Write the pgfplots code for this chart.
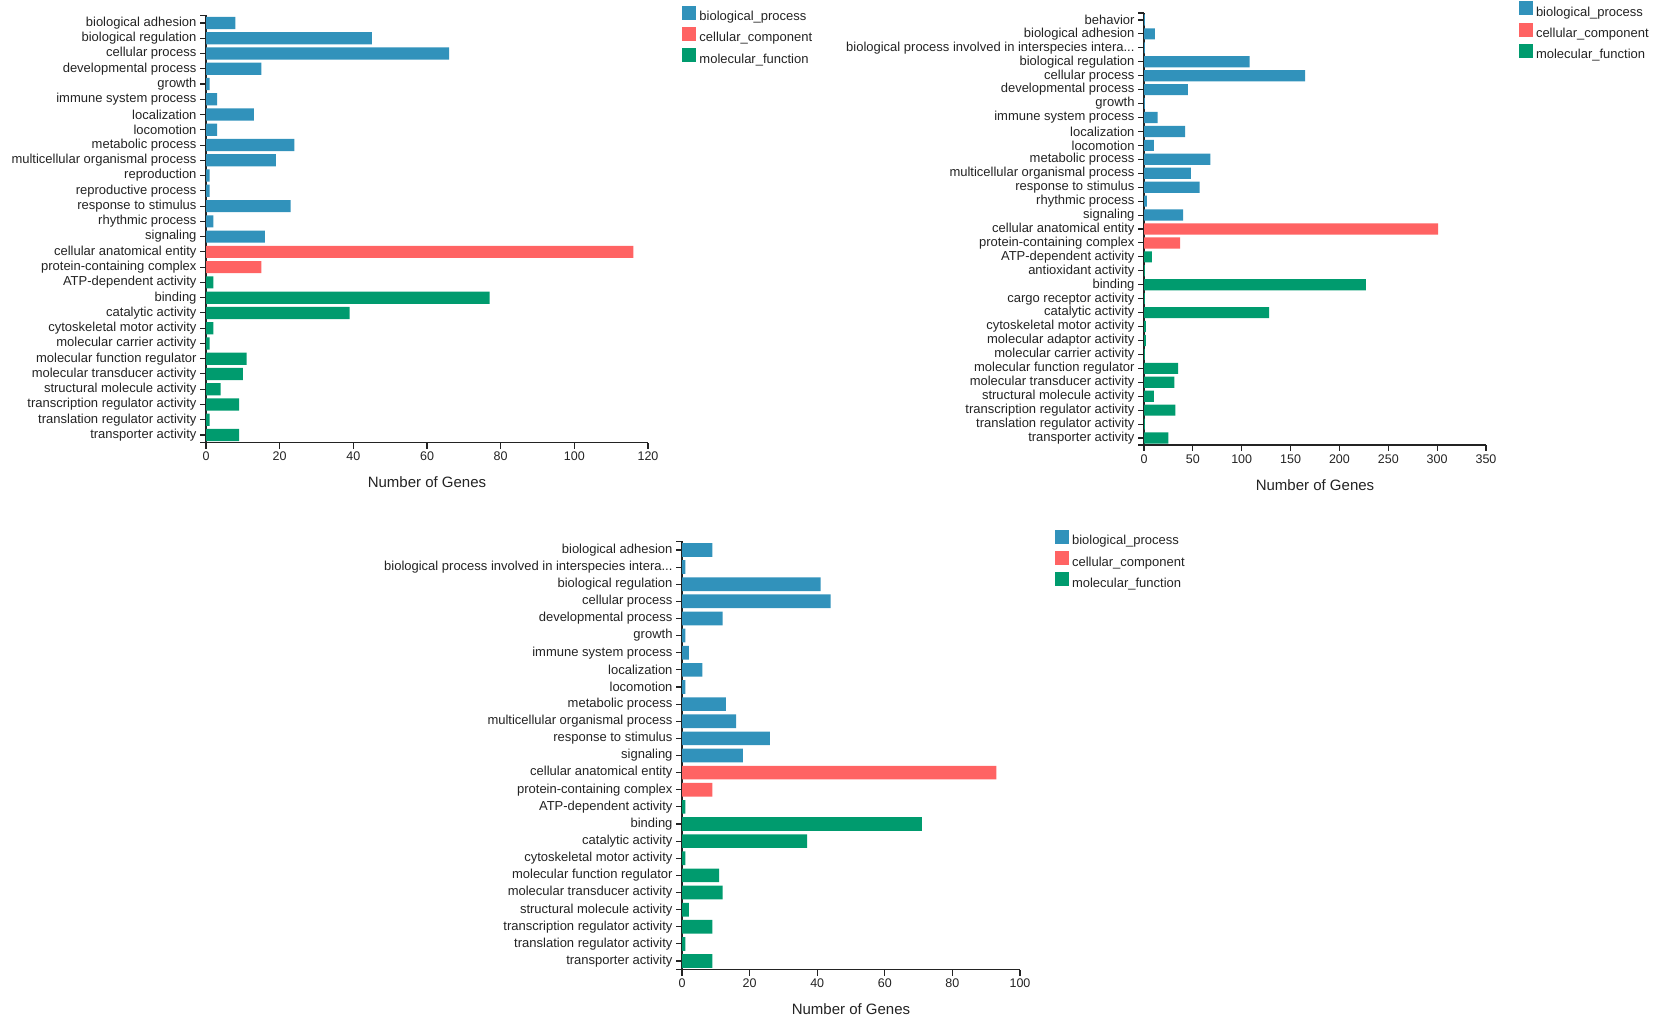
\documentclass[border=0pt]{standalone}
\usepackage{fontspec}
\setmainfont{Liberation Sans}
\usepackage{pgfplots}
\pgfplotsset{compat=1.18}
\newcommand{\tdots}{...}
\definecolor{bp}{RGB}{49,146,187}
\definecolor{cc}{RGB}{255,99,99}
\definecolor{mf}{RGB}{0,155,110}
\definecolor{ax}{RGB}{35,35,35}
\pgfplotsset{
  gobar/.style={
    scale only axis,
    anchor=south west,
    xbar, bar shift=0pt, bar width=0.8,
    axis x line*=bottom, axis y line*=left,
    axis line style={ax, line width=1.1bp},
    tick align=outside,
    major tick length=6bp,
    every tick/.style={ax, line width=1.1bp},
    xmin=0, ymin=-0.5,
    /pgf/number format/assume math mode=true,
    xticklabel style={font=\fontsize{12.5bp}{14bp}\selectfont, text=ax},
    yticklabel style={font=\fontsize{13bp}{15bp}\selectfont, text=ax},
    xlabel={Number of Genes},
    xlabel style={at={(axis description cs:0.5,0)}, anchor=center, yshift=-40bp,
      font=\fontsize{15bp}{17bp}\selectfont, text=ax},
    legend image code/.code={\fill[##1] (0bp,-3bp) rectangle (14bp,11bp);},
    legend style={draw=none, fill=none, inner sep=0pt, outer sep=0pt, anchor=north west,
      row sep=4.8bp, font=\fontsize{13bp}{15bp}\selectfont,
      nodes={inner sep=0pt, text=ax},
      /tikz/every odd column/.append style={column sep=3bp}},
    legend cell align=left,
  }
}
\begin{document}
\begin{tikzpicture}
\useasboundingbox (0,0) rectangle (1654bp,1021bp);
% ---------- panel 1 ----------
\begin{axis}[gobar,
  at={(206bp,578.4bp)}, width=442bp, height=427.2bp,
  xmax=120, xtick={0,20,40,60,80,100,120}, ymax=27.5,
  ytick={0,1,2,3,4,5,6,7,8,9,10,11,12,13,14,15,16,17,18,19,20,21,22,23,24,25,26,27},
  extra y ticks={-0.5,27.5}, extra y tick labels={},
  yticklabels={transporter activity, translation regulator activity, transcription regulator activity,
    structural molecule activity, molecular transducer activity, molecular function regulator,
    molecular carrier activity, cytoskeletal motor activity, catalytic activity, binding,
    ATP-dependent activity, protein-containing complex, cellular anatomical entity,
    signaling, rhythmic process, response to stimulus, reproductive process, reproduction,
    multicellular organismal process, metabolic process, locomotion, localization,
    immune system process, growth, developmental process, cellular process,
    biological regulation, biological adhesion},
  legend style={at={(axis description cs:1.078,1.0225)}},
]
\addplot[fill=bp, draw=none] coordinates {
 (8,27) (45,26) (66,25) (15,24) (1,23) (3,22) (13,21) (3,20) (24,19) (19,18)
 (1,17) (1,16) (23,15) (2,14) (16,13)};
\addlegendentry{biological\_process}
\addplot[fill=cc, draw=none] coordinates {(116,12) (15,11)};
\addlegendentry{cellular\_component}
\addplot[fill=mf, draw=none] coordinates {
 (2,10) (77,9) (39,8) (2,7) (1,6) (11,5) (10,4) (4,3) (9,2) (1,1) (9,0)};
\addlegendentry{molecular\_function}
\end{axis}
% ---------- panel 2 ----------
\begin{axis}[gobar,
  at={(1144bp,576bp)}, width=342bp, height=432bp,
  xmax=350, xtick={0,50,100,150,200,250,300,350}, ymax=30.5,
  ytick={0,1,2,3,4,5,6,7,8,9,10,11,12,13,14,15,16,17,18,19,20,21,22,23,24,25,26,27,28,29,30},
  extra y ticks={-0.5,30.5}, extra y tick labels={},
  yticklabels={transporter activity, translation regulator activity, transcription regulator activity,
    structural molecule activity, molecular transducer activity, molecular function regulator,
    molecular carrier activity, molecular adaptor activity, cytoskeletal motor activity,
    catalytic activity, cargo receptor activity, binding, antioxidant activity,
    ATP-dependent activity, protein-containing complex, cellular anatomical entity,
    signaling, rhythmic process, response to stimulus,
    multicellular organismal process, metabolic process, locomotion, localization,
    immune system process, growth, developmental process, cellular process,
    biological regulation, biological process involved in interspecies intera\tdots,
    biological adhesion, behavior},
  legend style={at={(axis description cs:1.0965,1.0266)}},
]
\addplot[fill=bp, draw=none] coordinates {
 (1,30) (11,29) (1,28) (108,27) (165,26) (45,25) (1,24) (14,23) (42,22) (10,21)
 (68,20) (48,19) (57,18) (3,17) (40,16)};
\addlegendentry{biological\_process}
\addplot[fill=cc, draw=none] coordinates {(301,15) (37,14)};
\addlegendentry{cellular\_component}
\addplot[fill=mf, draw=none] coordinates {
 (8,13) (1,12) (227,11) (1,10) (128,9) (2,8) (2,7) (1,6) (35,5) (31,4) (10,3)
 (32,2) (1,1) (25,0)};
\addlegendentry{molecular\_function}
\end{axis}
% ---------- panel 3 ----------
\begin{axis}[gobar,
  at={(682bp,51.4bp)}, width=338bp, height=428.2bp,
  xmax=100, xtick={0,20,40,60,80,100}, ymax=24.5,
  ytick={0,1,2,3,4,5,6,7,8,9,10,11,12,13,14,15,16,17,18,19,20,21,22,23,24},
  extra y ticks={-0.5,24.5}, extra y tick labels={},
  yticklabels={transporter activity, translation regulator activity, transcription regulator activity,
    structural molecule activity, molecular transducer activity, molecular function regulator,
    cytoskeletal motor activity, catalytic activity, binding,
    ATP-dependent activity, protein-containing complex, cellular anatomical entity,
    signaling, response to stimulus,
    multicellular organismal process, metabolic process, locomotion, localization,
    immune system process, growth, developmental process, cellular process,
    biological regulation, biological process involved in interspecies intera\tdots,
    biological adhesion},
  legend style={at={(axis description cs:1.1036,1.0267)}},
]
\addplot[fill=bp, draw=none] coordinates {
 (9,24) (1,23) (41,22) (44,21) (12,20) (1,19) (2,18) (6,17) (1,16) (13,15)
 (16,14) (26,13) (18,12)};
\addlegendentry{biological\_process}
\addplot[fill=cc, draw=none] coordinates {(93,11) (9,10)};
\addlegendentry{cellular\_component}
\addplot[fill=mf, draw=none] coordinates {
 (1,9) (71,8) (37,7) (1,6) (11,5) (12,4) (2,3) (9,2) (1,1) (9,0)};
\addlegendentry{molecular\_function}
\end{axis}
\end{tikzpicture}
\end{document}
